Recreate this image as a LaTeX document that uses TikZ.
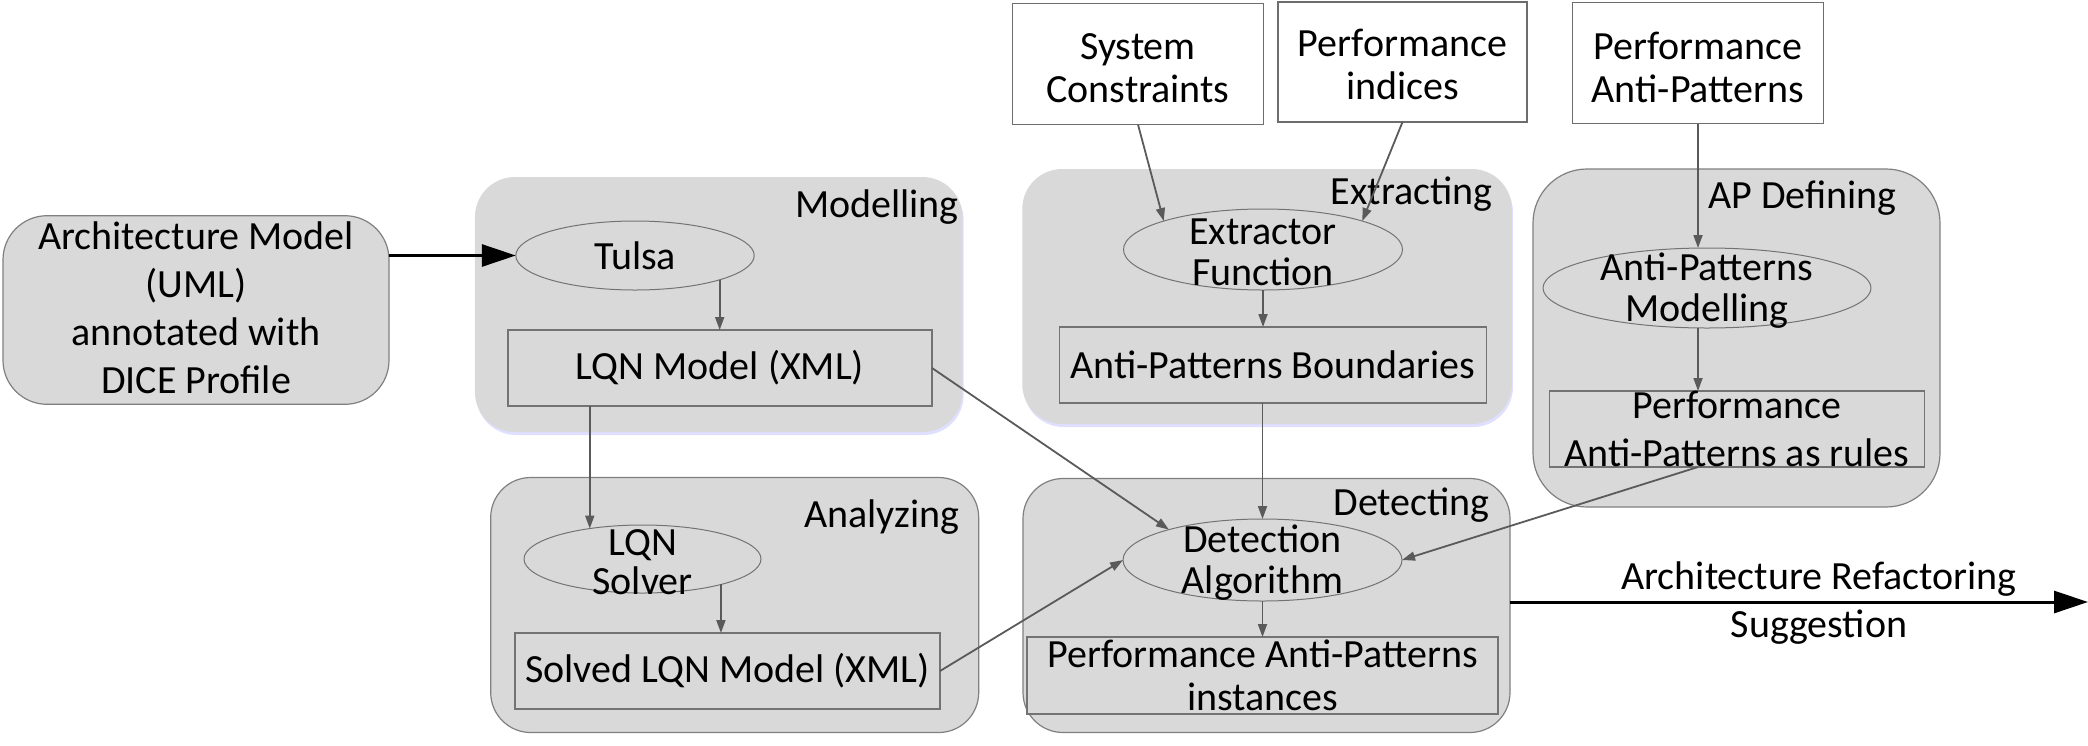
\documentclass[tikz,border=0pt]{standalone}
\usepackage{fontspec}
\setmainfont{Carlito}
\usetikzlibrary{shapes.geometric,arrows.meta,shadows}
\definecolor{boxfill}{HTML}{D9D9D9}
\definecolor{boxline}{HTML}{808080}
\definecolor{connline}{HTML}{5A5A5A}
\begin{document}
\begin{tikzpicture}[x=0.5pt,y=-0.5pt,
  txt/.style={font=\fontsize{20}{24}\selectfont, align=center, inner sep=0pt},
  tight/.style={font=\fontsize{20}{20.5}\selectfont, align=center, inner sep=0pt, yshift=-1.5pt},
  grp/.style={rectangle, draw=boxline, line width=0.6pt, fill=boxfill, rounded corners=20pt, inner sep=0pt, outer sep=0pt},
  grpsh/.style={rectangle, fill=boxfill, rounded corners=20pt, inner sep=0pt, outer sep=0pt,
    drop shadow={shadow xshift=0.6pt, shadow yshift=-1.5pt, fill=blue!18!white, opacity=0.7}},
  ell/.style={ellipse, draw=boxline!90!black, line width=0.5pt, fill=boxfill, inner sep=0pt, outer sep=0pt},
  rbox/.style={rectangle, draw=boxline!90!black, line width=0.7pt, fill=boxfill, inner sep=0pt, outer sep=0pt},
  wbox/.style={rectangle, draw=boxline!85!black, line width=0.7pt, fill=white, inner sep=0pt, outer sep=0pt},
  conn/.style={draw=connline, line width=0.9pt, -{Triangle[length=6.5pt,width=4.5pt]}},
  bigarrow/.style={draw=black, line width=1.5pt, -{Triangle[length=17pt,width=11pt]}}
]
\useasboundingbox (0,0) rectangle (2088,745);

% groups
\node[grp, rounded corners=22pt, minimum width=193pt, minimum height=94.3pt,
  label={[txt, yshift=1pt]center:Architecture Model\\(UML)\\annotated with\\DICE Profile}] (arch) at (196,310) {};
\node[grpsh, minimum width=243.75pt, minimum height=127.5pt] (modelling) at (718.7,304.5) {};
\node[grp, minimum width=244pt, minimum height=127.5pt] (analyzing) at (734.7,605) {};
\node[grpsh, minimum width=244.75pt, minimum height=127.5pt] (extracting) at (1267,296.5) {};
\node[grp, minimum width=243.5pt, minimum height=127pt] (detecting) at (1266.5,605.5) {};
\node[grp, rounded corners=27pt, minimum width=203.5pt, minimum height=169pt] (apdef) at (1736.5,338) {};

% group titles
\node[txt, anchor=base east] (tmodelling) at (959,217) {Modelling};
\node[txt, anchor=base east] (textracting) at (1493,204) {Extracting};
\node[txt, anchor=base east] (tapdef) at (1897,208) {AP Defining};
\node[txt, anchor=base east] (tanalyzing) at (960,527) {Analyzing};
\node[txt, anchor=base east] (tdetecting) at (1490,515) {Detecting};

% top inputs
\node[wbox, minimum width=125.6pt, minimum height=60.5pt,
  label={[txt, font=\fontsize{20}{21.5}\selectfont, yshift=-2pt]center:System\\Constraints}] (syscon) at (1138,64) {};
\node[wbox, minimum width=124.5pt, minimum height=60pt,
  label={[txt, font=\fontsize{20}{21.5}\selectfont, yshift=-1pt]center:Performance\\indices}] (perfidx) at (1402.5,62) {};
\node[wbox, minimum width=125.6pt, minimum height=60.5pt,
  label={[txt, font=\fontsize{20}{21.5}\selectfont, yshift=-2pt]center:Performance\\Anti-Patterns}] (perfap) at (1698,63) {};

% modelling
\node[ell, minimum width=119.2pt, minimum height=34.5pt, label={[txt]center:Tulsa}] (tulsa) at (635,255.5) {};
\node[rbox, minimum width=212pt, minimum height=38pt, label={[txt]center:LQN Model (XML)}] (lqn) at (720,368) {};

% analyzing
\node[ell, minimum width=118.5pt, minimum height=34pt, label={[tight, font=\fontsize{20}{19.5}\selectfont]center:LQN\\Solver}] (solver) at (642.5,559) {};
\node[rbox, minimum width=212.5pt, minimum height=38pt, label={[txt]center:Solved LQN Model (XML)}] (solved) at (727.5,671) {};

% extracting
\node[ell, minimum width=139.5pt, minimum height=40.5pt, label={[tight]center:Extractor\\Function}] (extractor) at (1263,249.5) {};
\node[rbox, minimum width=213.25pt, minimum height=38pt, label={[txt]center:Anti-Patterns Boundaries}] (boundaries) at (1273,365) {};

% AP defining
\node[ell, minimum width=164pt, minimum height=40pt, label={[tight]center:Anti-Patterns\\Modelling}] (apmod) at (1707,288) {};
\node[rbox, minimum width=187.5pt, minimum height=38pt, label={[txt]center:Performance\\Anti-Patterns as rules}] (rules) at (1737,429) {};

% detecting
\node[ell, minimum width=139.5pt, minimum height=41pt, label={[tight]center:Detection\\Algorithm}] (detalg) at (1262.5,560) {};
\node[rbox, minimum width=235.5pt, minimum height=38.5pt, label={[txt, font=\fontsize{20}{21.5}\selectfont]center:Performance Anti-Patterns\\instances}] (instances) at (1262.5,675.5) {};

% output label
\node[txt] (outlbl) at (1819,603) {Architecture Refactoring\\Suggestion};
\coordinate (outend) at (2088,602);

% connectors
\draw[bigarrow] (arch.east |- tulsa.west) -- (tulsa.west);
\draw[conn] (tulsa.-16) -- (tulsa.-16 |- lqn.north);
\draw[conn] (solver.150 |- lqn.south) -- (solver.150);
\draw[conn] (solver.-18) -- (solver.-18 |- solved.north);
\draw[conn] (lqn.east) -- (detalg.162);
\draw[conn] (solved.east) -- (detalg.west);
\draw[conn] (syscon.south) -- (extractor.164);
\draw[conn] (perfidx.south) -- (extractor.16);
\draw[conn] (extractor.south) -- (extractor.south |- boundaries.north);
\draw[conn] (boundaries.south -| detalg.north) -- (detalg.north);
\draw[conn] (perfap.south) -- (perfap.south |- apmod.north);
\draw[conn] (perfap.south |- apmod.south) -- (perfap.south |- rules.north);
\draw[conn] (perfap.south |- rules.south) -- (detalg.east);
\draw[conn] (detalg.south) -- (detalg.south |- instances.north);
\draw[bigarrow] (detecting.east |- outend) -- (outend);
\end{tikzpicture}
\end{document}
